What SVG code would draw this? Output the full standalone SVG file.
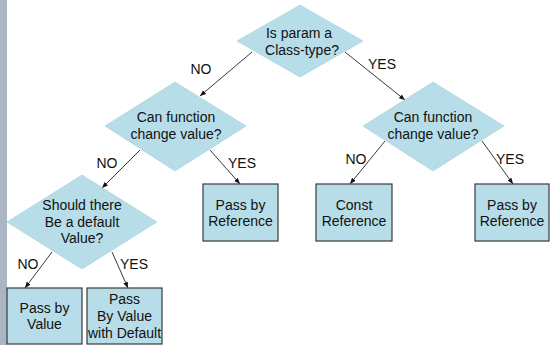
<svg xmlns="http://www.w3.org/2000/svg" width="550" height="345" viewBox="0 0 550 345">
<style>
.d{fill:#b7dde8;stroke:#9cc6d4;stroke-width:0.5}
.b{fill:#b7dde8;stroke:#3a3a3a;stroke-width:1.2}
text{font-family:"Liberation Sans",Arial,sans-serif;font-size:14px;fill:#111;text-anchor:middle}
.c{stroke:#222;stroke-width:0.9;fill:none;marker-end:url(#ah)}
</style>
<defs>
<marker id="ah" viewBox="0 0 10 10" refX="10" refY="5" markerWidth="6" markerHeight="6" markerUnits="userSpaceOnUse" orient="auto">
<path d="M0,1 L10,5 L0,9 z" fill="#111"/>
</marker>
</defs>
<rect x="0" y="0" width="550" height="345" fill="#ffffff"/>
<rect x="0" y="0" width="7" height="345" fill="#aab6c3"/>
<g id="connectors">
<line class="c" x1="252" y1="52" x2="200" y2="96"/>
<line class="c" x1="345" y1="52" x2="405" y2="100"/>
<line class="c" x1="140" y1="150" x2="102" y2="188"/>
<line class="c" x1="210" y1="150" x2="240" y2="184"/>
<line class="c" x1="385" y1="141" x2="350" y2="184"/>
<line class="c" x1="482" y1="141" x2="513" y2="184"/>
<line class="c" x1="52" y1="252" x2="25" y2="288"/>
<line class="c" x1="112" y1="252" x2="128" y2="288"/>
<text x="201" y="74">NO</text>
<text x="382" y="69">YES</text>
<text x="107" y="168">NO</text>
<text x="242" y="168">YES</text>
<text x="356" y="164">NO</text>
<text x="510" y="164">YES</text>
<text x="28" y="269">NO</text>
<text x="134" y="269">YES</text>
</g>
<g id="q1">
<polygon class="d" points="300,5 363,41 300,77 237,41"/>
<text x="299" y="38">Is param a</text>
<text x="302" y="55">Class-type?</text>
</g>
<g id="q2">
<polygon class="d" points="175,82 246,126 175,171 105,126"/>
<text x="176" y="122">Can function</text>
<text x="176" y="139">change value?</text>
</g>
<g id="q3">
<polygon class="d" points="433,82 504,126 433,171 363,126"/>
<text x="433" y="122">Can function</text>
<text x="433" y="139">change value?</text>
</g>
<g id="q4">
<polygon class="d" points="82,175 157,222 82,269 7,222"/>
<text x="82" y="210">Should there</text>
<text x="82" y="227">Be a default</text>
<text x="82" y="243">Value?</text>
</g>
<g id="r1">
<rect class="b" x="203" y="184" width="75" height="57"/>
<text x="240.5" y="210">Pass by</text>
<text x="240.5" y="226">Reference</text>
</g>
<g id="r2">
<rect class="b" x="316" y="184" width="76" height="57"/>
<text x="354" y="210">Const</text>
<text x="354" y="226">Reference</text>
</g>
<g id="r3">
<rect class="b" x="475" y="184" width="74" height="57"/>
<text x="512" y="210">Pass by</text>
<text x="512" y="226">Reference</text>
</g>
<g id="r4">
<rect class="b" x="7" y="288" width="75" height="56"/>
<text x="44.5" y="313">Pass by</text>
<text x="44.5" y="329">Value</text>
</g>
<g id="r5">
<rect class="b" x="87" y="288" width="75" height="56"/>
<text x="124.5" y="304">Pass</text>
<text x="124.5" y="321">By Value</text>
<text x="124.5" y="338">with Default</text>
</g>
</svg>
